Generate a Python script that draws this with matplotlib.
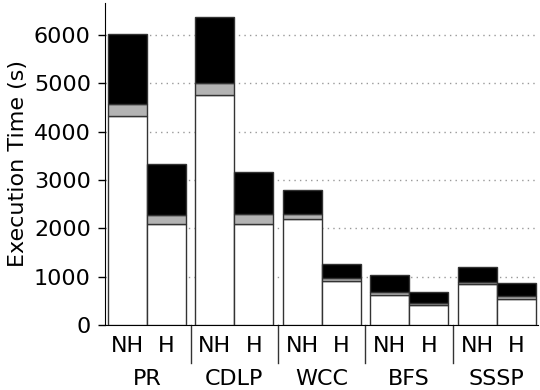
import matplotlib
matplotlib.use("Agg")
import matplotlib.pyplot as plt
import matplotlib.transforms as mtransforms
import numpy as np

groups = ["PR", "CDLP", "WCC", "BFS", "SSSP"]
variants = ["NH", "H"]

# stacked segments per bar (NH, H for each group), in seconds
base_nh = [4330, 4760, 2195, 620, 843]
mid_nh = [235, 245, 97, 57, 47]
top_nh = [1465, 1370, 510, 345, 317]

base_h = [2085, 2090, 905, 408, 532]
mid_h = [192, 214, 62, 54, 62]
top_h = [1050, 850, 302, 228, 269]

fig = plt.figure(figsize=(5.4, 3.9), dpi=100)
ax = fig.add_axes([0.194, 0.167, 0.802, 0.825])

w = 0.446
x = np.arange(len(groups))
edge = "#333333"
kw = dict(width=w, edgecolor=edge, linewidth=1.0, zorder=3)

for xs, b, m, t in [(x - w / 2, base_nh, mid_nh, top_nh), (x + w / 2, base_h, mid_h, top_h)]:
    b = np.array(b)
    m = np.array(m)
    t = np.array(t)
    ax.bar(xs, b, color="white", **kw)
    ax.bar(xs, m, bottom=b, color="#b3b3b3", **kw)
    ax.bar(xs, t, bottom=b + m, color="black", **kw)

ax.set_xlim(-0.48, 4.47)
ax.set_ylim(0, 6660)
ax.set_yticks(range(0, 7000, 1000))
ax.tick_params(axis="y", labelsize=16, length=5, width=1, pad=5)
ax.set_ylabel("Execution Time (s)", fontsize=16, labelpad=4)

ax.yaxis.grid(True, linestyle=(0, (1, 3)), color="#999999", linewidth=1)
ax.set_axisbelow(True)
for s in ["top", "right"]:
    ax.spines[s].set_visible(False)

# sub labels NH / H
ticks = np.concatenate([[xi - w / 2, xi + w / 2] for xi in x])
ax.set_xticks(ticks)
ax.set_xticklabels(variants * len(groups), fontsize=16)
ax.tick_params(axis="x", length=0, pad=8)

# group names and separators below the axis
trans = mtransforms.blended_transform_factory(ax.transData, ax.transAxes)
for xi, g in zip(x, groups):
    ax.text(xi, -0.186, g, transform=trans, ha="center", va="baseline", fontsize=16)
for xi in x[:-1] + 0.5:
    ax.plot([xi, xi], [0, -0.118], transform=trans, color="#333333", lw=1, clip_on=False)

fig.savefig("out.png", dpi=100)
